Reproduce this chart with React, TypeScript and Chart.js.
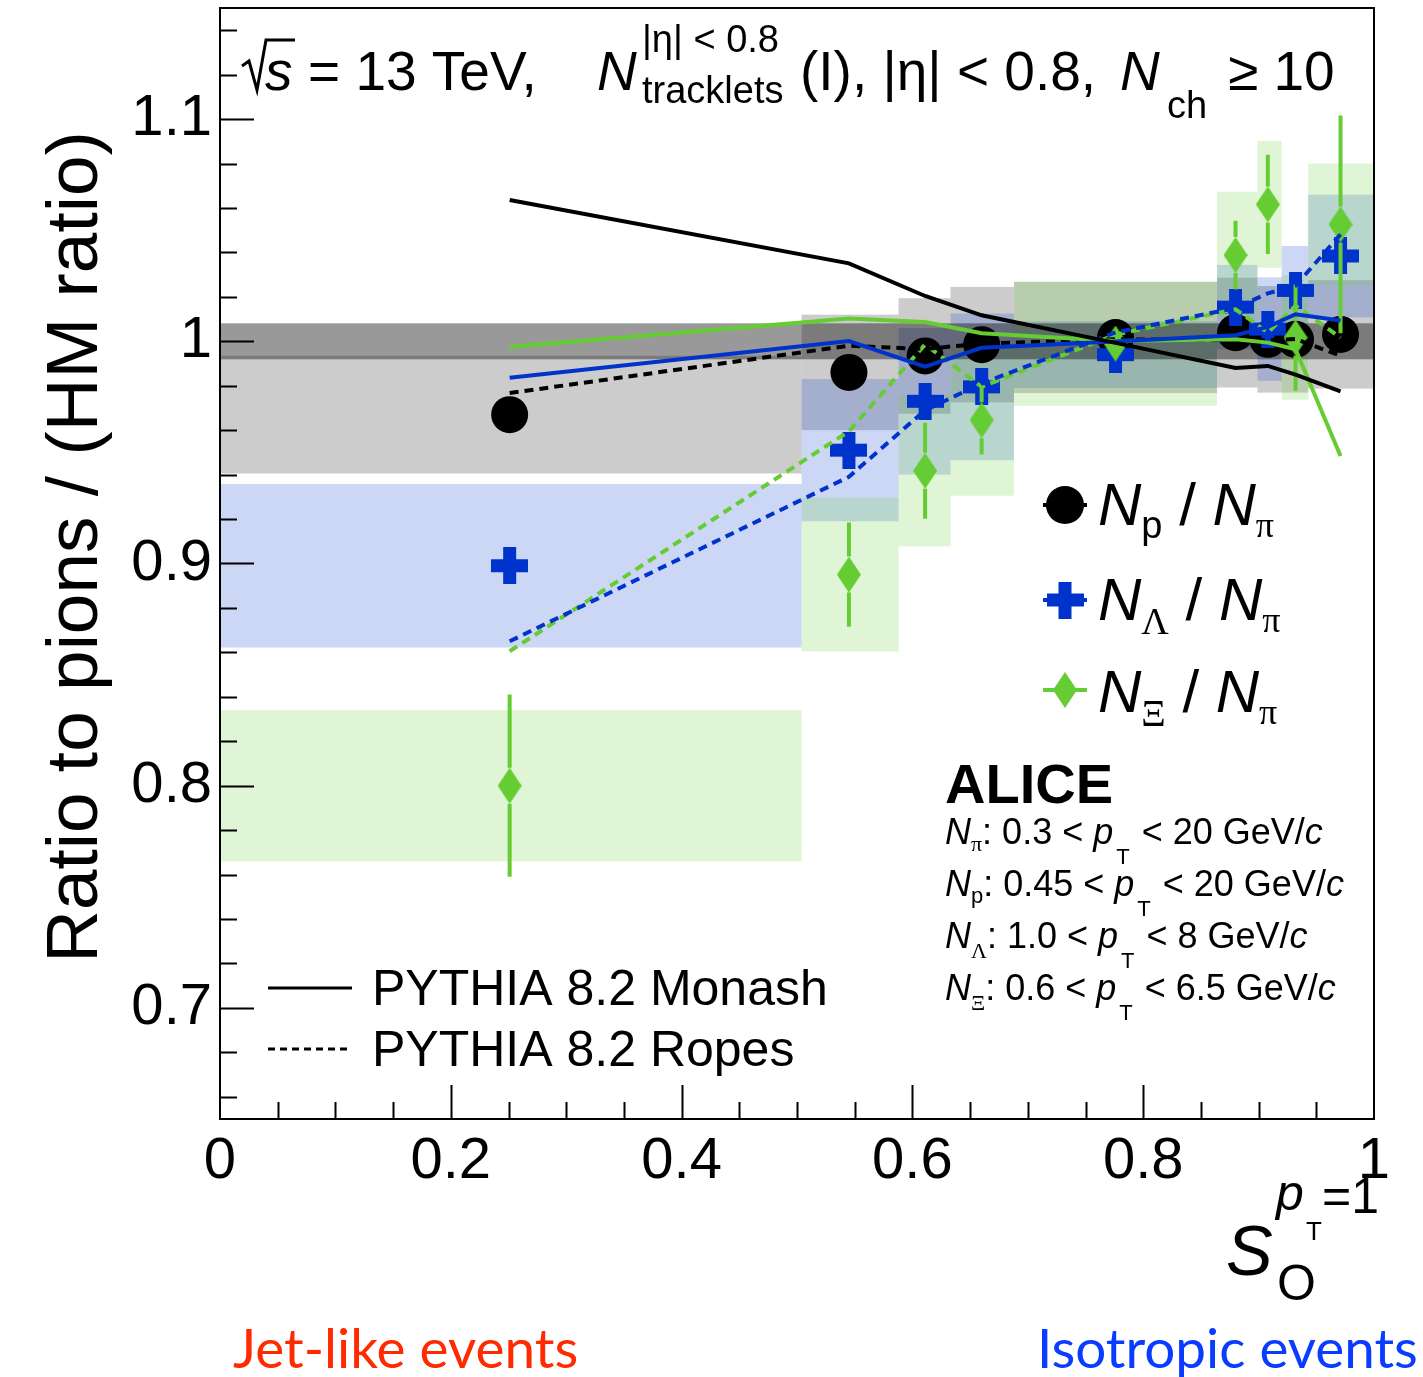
import React, { useEffect, useRef } from 'react';
import { Chart, registerables } from 'chart.js';

Chart.register(...registerables);

const W = 1423;
const H = 1377;

const SANS = '"Liberation Sans", Arial, Helvetica, sans-serif';
const SERIF = '"Liberation Serif", "Times New Roman", serif';
const LABEL_FONT = 'Lato, "Open Sans", sans-serif';

const BLACK = '#000000';
const BLUE = '#0033cc';
const GREEN = '#66cc33';

// S_O^{pT=1} event classes: bin edges and the centre of each class
const soBinEdges = [0, 0.504, 0.588, 0.633, 0.688, 0.864, 0.899, 0.92, 0.943, 1.0];
const soCentres = [0.251, 0.545, 0.611, 0.66, 0.776, 0.88, 0.908, 0.932, 0.971];

// N_p / N_pi, normalised to the high-multiplicity ratio
const protonRatio = [0.967, 0.986, 0.9934, 0.9985, 1.0017, 1.0039, 1.0009, 1.0009, 1.0031];
const protonSys = [0.0265, 0.026, 0.026, 0.026, 0.025, 0.0247, 0.024, 0.024, 0.0244];
const protonStat = [0.002, 0.002, 0.002, 0.002, 0.002, 0.002, 0.002, 0.002, 0.002];

// N_Lambda / N_pi
const lambdaRatio = [0.899, 0.951, 0.973, 0.9795, 0.994, 1.0154, 1.0055, 1.0229, 1.0384];
const lambdaSys = [0.0368, 0.032, 0.033, 0.033, 0.015, 0.019, 0.0233, 0.02, 0.0276];
const lambdaStat = [0.005, 0.004, 0.004, 0.004, 0.004, 0.005, 0.005, 0.006, 0.0085];

// N_Xi / N_pi
const xiRatio = [0.8, 0.895, 0.9417, 0.9645, 0.999, 1.0388, 1.0616, 1.0017, 1.0526];
const xiSys = [0.034, 0.0346, 0.034, 0.034, 0.028, 0.0285, 0.0285, 0.028, 0.0274];
const xiStat = [0.041, 0.0235, 0.0216, 0.0154, 0.008, 0.0155, 0.0223, 0.024, 0.049];

// normalisation uncertainty of the HM reference
const hmNormUnc = 0.0081;

// PYTHIA 8.2 predictions at the class centres
const monashP = [1.0636, 1.0351, 1.0204, 1.0117, 0.9993, 0.988, 0.9889, 0.985, 0.9775];
const monashLambda = [0.9836, 1.0001, 0.9886, 0.9971, 0.9999, 1.0027, 1.0065, 1.0122, 1.0094];
const monashXi = [0.9974, 1.0103, 1.0087, 1.0036, 1.0001, 1.0009, 0.9994, 0.9964, 0.9484];
const ropesP = [0.9767, 0.998, 0.9965, 0.999, 1.0009, 1.0005, 1.0005, 1.001, 0.9935];
const ropesLambda = [0.865, 0.939, 0.969, 0.981, 1.004, 1.015, 1.0216, 1.025, 1.0481];
const ropesXi = [0.8605, 0.9595, 0.9986, 0.9795, 1.003, 1.0144, 1.0039, 1.016, 1.0017];

const xTickLabels = [0, 0.2, 0.4, 0.6, 0.8, 1];
const yTickLabels = [0.7, 0.8, 0.9, 1.0, 1.1];

const fmtTick = (v: number) => (Math.abs(v - Math.round(v)) < 1e-9 ? String(Math.round(v)) : v.toFixed(1));

const pts = (ys: number[]) => soCentres.map((x, i) => ({ x, y: ys[i] }));

type Seg = { t: string; size: number; style?: string; weight?: string; family?: string; dy?: number; gap?: number };

function drawRich(ctx: CanvasRenderingContext2D, x: number, y: number, segs: Seg[]) {
  let cx = x;
  for (const s of segs) {
    ctx.font = `${s.style || 'normal'} ${s.weight || 'normal'} ${s.size}px ${s.family || SANS}`;
    ctx.fillText(s.t, cx, y + (s.dy || 0));
    cx += ctx.measureText(s.t).width + (s.gap || 0);
  }
  return cx;
}

function makePlus(color: string, size = 37, arm = 13) {
  const c = document.createElement('canvas');
  c.width = size;
  c.height = size;
  const g = c.getContext('2d')!;
  g.fillStyle = color;
  const o = (size - arm) / 2;
  g.fillRect(o, 0, arm, size);
  g.fillRect(0, o, size, arm);
  return c;
}

function makeDiamond(color: string, w = 24, h = 36) {
  const c = document.createElement('canvas');
  c.width = w;
  c.height = h;
  const g = c.getContext('2d')!;
  g.fillStyle = color;
  g.beginPath();
  g.moveTo(w / 2, 0);
  g.lineTo(w, h / 2);
  g.lineTo(w / 2, h);
  g.lineTo(0, h / 2);
  g.closePath();
  g.fill();
  return c;
}

// statistical error bars, drawn outside each marker
const errorSpecs: Record<string, { v: number[]; e: number[]; color: string; half: number }> = {
  proton: { v: protonRatio, e: protonStat, color: BLACK, half: 18.5 },
  lambda: { v: lambdaRatio, e: lambdaStat, color: BLUE, half: 18.5 },
  xi: { v: xiRatio, e: xiStat, color: GREEN, half: 18 },
};

export default function App() {
  const canvasRef = useRef<HTMLCanvasElement | null>(null);

  useEffect(() => {
    const canvas = canvasRef.current;
    if (!canvas) return;
    const plusImg = makePlus(BLUE);
    const diamondImg = makeDiamond(GREEN);

    const boxPlugin = {
      id: 'sysBoxes',
      beforeDatasetsDraw(chart: any) {
        const { ctx, chartArea: a } = chart;
        const x = chart.scales.x;
        const y = chart.scales.y;
        ctx.save();
        ctx.beginPath();
        ctx.rect(a.left, a.top, a.right - a.left, a.bottom - a.top);
        ctx.clip();
        const groups = [
          { v: protonRatio, s: protonSys, c: 'rgba(0,0,0,0.2)' },
          { v: lambdaRatio, s: lambdaSys, c: 'rgba(0,51,204,0.2)' },
          { v: xiRatio, s: xiSys, c: 'rgba(102,204,51,0.2)' },
        ];
        for (const g of groups) {
          ctx.fillStyle = g.c;
          g.v.forEach((val, i) => {
            const x0 = x.getPixelForValue(soBinEdges[i]);
            const x1 = x.getPixelForValue(soBinEdges[i + 1]);
            const y0 = y.getPixelForValue(val + g.s[i]);
            const y1 = y.getPixelForValue(val - g.s[i]);
            ctx.fillRect(x0, y0, x1 - x0, y1 - y0);
          });
        }
        ctx.fillStyle = 'rgba(0,0,0,0.4)';
        const b0 = y.getPixelForValue(1 + hmNormUnc);
        const b1 = y.getPixelForValue(1 - hmNormUnc);
        ctx.fillRect(x.getPixelForValue(0), b0, x.getPixelForValue(1) - x.getPixelForValue(0), b1 - b0);
        ctx.restore();
      },
      afterDatasetDraw(chart: any, args: any) {
        const ds = chart.data.datasets[args.index];
        const spec = errorSpecs[ds.label];
        if (!spec) return;
        const { ctx } = chart;
        const x = chart.scales.x;
        const y = chart.scales.y;
        ctx.save();
        ctx.strokeStyle = spec.color;
        ctx.lineWidth = 4;
        spec.v.forEach((val, i) => {
          const px = x.getPixelForValue(soCentres[i]);
          const py = y.getPixelForValue(val);
          const top = y.getPixelForValue(val + spec.e[i]);
          const bot = y.getPixelForValue(val - spec.e[i]);
          ctx.beginPath();
          if (top < py - spec.half) {
            ctx.moveTo(px, top);
            ctx.lineTo(px, py - spec.half);
          }
          if (bot > py + spec.half) {
            ctx.moveTo(px, py + spec.half);
            ctx.lineTo(px, bot);
          }
          ctx.stroke();
        });
        ctx.restore();
      },
      afterDraw(chart: any) {
        const { ctx, chartArea: a } = chart;
        const x = chart.scales.x;
        const y = chart.scales.y;
        ctx.save();
        ctx.strokeStyle = '#000';
        ctx.fillStyle = '#000';
        ctx.lineWidth = 2;
        // frame
        ctx.strokeRect(a.left, a.top, a.right - a.left, a.bottom - a.top);
        // y ticks, inside the frame
        ctx.beginPath();
        for (let k = 33; k <= 57; k++) {
          const v = k * 0.02;
          const major = k % 5 === 0;
          const py = Math.round(y.getPixelForValue(v)) + 0.5;
          ctx.moveTo(a.left, py);
          ctx.lineTo(a.left + (major ? 34 : 17), py);
        }
        // x ticks
        for (let k = 1; k < 20; k++) {
          const v = k * 0.05;
          const major = k % 4 === 0;
          const px = Math.round(x.getPixelForValue(v)) + 0.5;
          ctx.moveTo(px, a.bottom);
          ctx.lineTo(px, a.bottom - (major ? 34 : 17));
        }
        ctx.stroke();

        ctx.textAlign = 'left';
        ctx.textBaseline = 'alphabetic';

        // header
        ctx.lineWidth = 3;
        ctx.beginPath();
        ctx.moveTo(242, 66);
        ctx.lineTo(249, 61);
        ctx.lineTo(257, 90);
        ctx.lineTo(266, 40);
        ctx.lineTo(295, 40);
        ctx.stroke();
        drawRich(ctx, 265, 90, [{ t: 's', size: 55, style: 'italic' }]);
        drawRich(ctx, 308, 90, [{ t: '= 13 TeV,', size: 55 }]);
        drawRich(ctx, 597, 90, [{ t: 'N', size: 55, style: 'italic' }]);
        drawRich(ctx, 642, 52, [{ t: '|η| < 0.8', size: 38 }]);
        drawRich(ctx, 642, 103, [{ t: 'tracklets', size: 38 }]);
        drawRich(ctx, 800, 90, [{ t: '(I), |η| < 0.8,', size: 55 }]);
        drawRich(ctx, 1120, 90, [{ t: 'N', size: 55, style: 'italic' }]);
        drawRich(ctx, 1167, 118, [{ t: 'ch', size: 38 }]);
        drawRich(ctx, 1228, 90, [{ t: '≥ 10', size: 55 }]);

        // species legend
        const legendRows = [
          { sub: 'p', subFamily: SANS, subDy: 13, my: 505, by: 525, color: BLACK },
          { sub: 'Λ', subFamily: SERIF, subDy: 14, my: 600, by: 620, color: BLUE },
          { sub: 'Ξ', subFamily: SERIF, subDy: 14, my: 690, by: 712, color: GREEN },
        ];
        legendRows.forEach((r, i) => {
          ctx.strokeStyle = r.color;
          ctx.lineWidth = 4;
          ctx.beginPath();
          ctx.moveTo(1043, r.my);
          ctx.lineTo(1087, r.my);
          ctx.stroke();
          if (i === 0) {
            ctx.fillStyle = BLACK;
            ctx.beginPath();
            ctx.arc(1065, r.my, 19, 0, Math.PI * 2);
            ctx.fill();
          } else {
            const img = i === 1 ? plusImg : diamondImg;
            ctx.drawImage(img, 1065 - img.width / 2, r.my - img.height / 2);
          }
          ctx.fillStyle = '#000';
          drawRich(ctx, 1098, r.by, [
            { t: 'N', size: 60, style: 'italic' },
            { t: r.sub, size: 38, family: r.subFamily, dy: r.subDy },
            { t: ' / ', size: 60 },
            { t: 'N', size: 60, style: 'italic' },
            { t: 'π', size: 36, family: SERIF, dy: 12 },
          ]);
        });

        // ALICE label and kinematic ranges
        ctx.fillStyle = '#000';
        drawRich(ctx, 945, 803, [{ t: 'ALICE', size: 56, weight: 'bold' }]);
        const ranges = [
          { sub: 'π', fam: SERIF, sdy: 7, lo: '0.3', hi: '20', by: 844 },
          { sub: 'p', fam: SANS, sdy: 7, lo: '0.45', hi: '20', by: 896 },
          { sub: 'Λ', fam: SERIF, sdy: 10, lo: '1.0', hi: '8', by: 948 },
          { sub: 'Ξ', fam: SERIF, sdy: 10, lo: '0.6', hi: '6.5', by: 1000 },
        ];
        for (const r of ranges) {
          drawRich(ctx, 945, r.by, [
            { t: 'N', size: 36, style: 'italic' },
            { t: r.sub, size: 22, family: r.fam, dy: r.sdy },
            { t: `: ${r.lo} < `, size: 36 },
            { t: 'p', size: 36, style: 'italic', gap: 3 },
            { t: 'T', size: 22, dy: 20, gap: 2 },
            { t: ` < ${r.hi} GeV/`, size: 36 },
            { t: 'c', size: 36, style: 'italic' },
          ]);
        }

        // PYTHIA legend
        ctx.strokeStyle = '#000';
        ctx.lineWidth = 3;
        ctx.beginPath();
        ctx.moveTo(268, 988);
        ctx.lineTo(352, 988);
        ctx.stroke();
        ctx.setLineDash([7, 5]);
        ctx.beginPath();
        ctx.moveTo(268, 1049);
        ctx.lineTo(350, 1049);
        ctx.stroke();
        ctx.setLineDash([]);
        drawRich(ctx, 372, 1005, [{ t: 'PYTHIA 8.2 Monash', size: 50 }]);
        drawRich(ctx, 372, 1066, [{ t: 'PYTHIA 8.2 Ropes', size: 50 }]);

        // y-axis title
        ctx.save();
        ctx.translate(97, 547);
        ctx.rotate(-Math.PI / 2);
        ctx.textAlign = 'center';
        ctx.font = `73px ${SANS}`;
        ctx.fillText('Ratio to pions / (HM ratio)', 0, 0);
        ctx.restore();

        // x-axis title S_O^{pT=1}
        drawRich(ctx, 1226, 1275, [{ t: 'S', size: 70, style: 'italic' }]);
        drawRich(ctx, 1277, 1300, [{ t: 'O', size: 50 }]);
        drawRich(ctx, 1276, 1210, [{ t: 'p', size: 50, style: 'italic' }]);
        drawRich(ctx, 1306, 1240, [{ t: 'T', size: 26 }]);
        drawRich(ctx, 1322, 1213, [{ t: '=1', size: 50 }]);

        // event-class labels below the axis
        const fitLabel = (text: string, x0: number, width: number, color: string) => {
          ctx.font = `48px ${LABEL_FONT}`;
          const m = ctx.measureText(text).width;
          const size = (48 * width) / m;
          ctx.font = `${size.toFixed(1)}px ${LABEL_FONT}`;
          ctx.fillStyle = color;
          ctx.fillText(text, x0, 1368);
        };
        fitLabel('Jet-like events', 233, 345, '#ff2a00');
        fitLabel('Isotropic events', 1037, 381, '#0a3cff');
        ctx.restore();
      },
    };

    const chart = new Chart(canvas, {
      type: 'scatter',
      data: {
        datasets: [
          { type: 'line', label: 'Monash p', data: pts(monashP), borderColor: BLACK, borderWidth: 4, pointRadius: 0, order: 0 },
          { type: 'line', label: 'Monash Lambda', data: pts(monashLambda), borderColor: BLUE, borderWidth: 4, pointRadius: 0, order: 0 },
          { type: 'line', label: 'Monash Xi', data: pts(monashXi), borderColor: GREEN, borderWidth: 4, pointRadius: 0, order: 0 },
          { type: 'line', label: 'Ropes p', data: pts(ropesP), borderColor: BLACK, borderWidth: 4, borderDash: [9, 6], pointRadius: 0, order: 1 },
          { type: 'line', label: 'Ropes Lambda', data: pts(ropesLambda), borderColor: BLUE, borderWidth: 4, borderDash: [9, 6], pointRadius: 0, order: 1 },
          { type: 'line', label: 'Ropes Xi', data: pts(ropesXi), borderColor: GREEN, borderWidth: 4, borderDash: [9, 6], pointRadius: 0, order: 1 },
          { type: 'scatter', label: 'xi', data: pts(xiRatio), pointStyle: diamondImg, pointRadius: 18, order: 4 },
          { type: 'scatter', label: 'lambda', data: pts(lambdaRatio), pointStyle: plusImg, pointRadius: 18, order: 5 },
          { type: 'scatter', label: 'proton', data: pts(protonRatio), pointStyle: 'circle', pointRadius: 18.5, backgroundColor: BLACK, borderWidth: 0, order: 6 },
        ] as any,
      },
      options: {
        animation: false,
        responsive: false,
        devicePixelRatio: 1,
        events: [],
        layout: { autoPadding: false, padding: { top: 8, right: 49, left: 0, bottom: 0 } },
        plugins: { legend: { display: false }, tooltip: { enabled: false } },
        scales: {
          x: {
            type: 'linear',
            min: 0,
            max: 1,
            afterBuildTicks: (s: any) => {
              s.ticks = xTickLabels.map((v) => ({ value: v }));
            },
            afterFit: (s: any) => {
              s.height = 258;
              s.paddingLeft = 0;
              s.paddingRight = 0;
            },
            grid: { display: false, drawTicks: false },
            border: { display: false },
            ticks: {
              font: { family: SANS, size: 58 },
              color: '#000',
              padding: 8,
              maxRotation: 0,
              autoSkip: false,
              callback: (v: any) => fmtTick(Number(v)),
            },
          },
          y: {
            type: 'linear',
            min: 0.65,
            max: 1.15,
            afterBuildTicks: (s: any) => {
              s.ticks = yTickLabels.map((v) => ({ value: v }));
            },
            afterFit: (s: any) => {
              s.width = 220;
              s.paddingTop = 0;
              s.paddingBottom = 0;
            },
            grid: { display: false, drawTicks: false },
            border: { display: false },
            ticks: {
              font: { family: SANS, size: 58 },
              color: '#000',
              padding: 8,
              autoSkip: false,
              callback: (v: any) => fmtTick(Number(v)),
            },
          },
        },
      } as any,
      plugins: [boxPlugin],
    });
    return () => chart.destroy();
  }, []);

  return (
    <div style={{ position: 'absolute', left: 0, top: 0, width: W, height: H, background: '#fff' }}>
      <canvas ref={canvasRef} width={W} height={H} style={{ display: 'block', width: W, height: H }} />
    </div>
  );
}
